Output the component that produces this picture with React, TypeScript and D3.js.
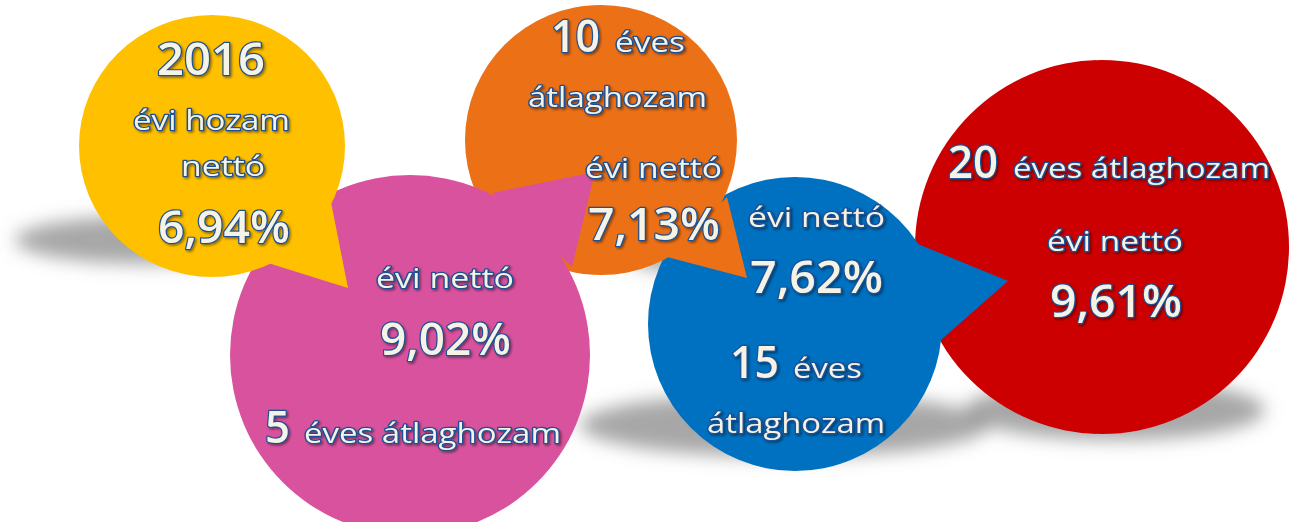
import * as d3 from "d3";

// data: period label, net annual return (%)
const periods = ["2016", "5", "10", "15", "20"];
const netReturns = [6.94, 9.02, 7.13, 7.62, 9.61];
const fills = ["#FFC000", "#D9529E", "#EC7016", "#0070C0", "#CC0000"];

const hu = d3.formatLocale({ decimal: ",", thousands: " ", grouping: [3], currency: ["", " Ft"] });
const pct = (v: number) => hu.format(".2f")(v) + "%";

const W = 1299;
const H = 522;

// bubble geometry (layout only)
const bubbles = [
  { cx: 212, cy: 146, rx: 133, ry: 131, tail: [[265, 262], [348, 288], [330, 197]] },
  { cx: 410, cy: 355, rx: 180, ry: 180, tail: [[492, 193], [595, 172], [572, 267]] },
  { cx: 601, cy: 140, rx: 136, ry: 135, tail: [[667, 257], [747, 278], [727, 197]] },
  { cx: 795, cy: 324, rx: 147, ry: 147, tail: [[918, 244], [1008, 281], [941, 340]] },
  { cx: 1102, cy: 247, rx: 187, ry: 187, tail: [] as number[][] },
];
const drawOrder = [4, 3, 2, 1, 0];

const shadows = [
  { cx: 150, cy: 240, rx: 135, ry: 24 },
  { cx: 690, cy: 258, rx: 60, ry: 14 },
  { cx: 785, cy: 425, rx: 205, ry: 32 },
  { cx: 1115, cy: 410, rx: 150, ry: 30 },
];

type Line = { t: string; x: number; y: number; w: number; big?: boolean };

const lines: Line[] = [
  // 2016
  { t: periods[0], x: 157, y: 75, w: 108, big: true },
  { t: "évi hozam", x: 133, y: 130, w: 157 },
  { t: "nettó", x: 181, y: 176, w: 84 },
  { t: pct(netReturns[0]), x: 158, y: 243, w: 132, big: true },
  // 5 éves
  { t: "évi nettó", x: 376, y: 288, w: 138 },
  { t: pct(netReturns[1]), x: 380, y: 355, w: 131, big: true },
  { t: periods[1], x: 265, y: 443, w: 25, big: true },
  { t: "éves átlaghozam", x: 304, y: 443, w: 257 },
  // 10 éves
  { t: periods[2], x: 551, y: 52, w: 49, big: true },
  { t: "éves", x: 615, y: 52, w: 70 },
  { t: "átlaghozam", x: 528, y: 107, w: 179 },
  { t: "évi nettó", x: 585, y: 178, w: 137 },
  { t: pct(netReturns[2]), x: 588, y: 240, w: 132, big: true },
  // 15 éves
  { t: "évi nettó", x: 748, y: 227, w: 137 },
  { t: pct(netReturns[3]), x: 750, y: 293, w: 133, big: true },
  { t: periods[3], x: 730, y: 378, w: 49, big: true },
  { t: "éves", x: 793, y: 378, w: 69 },
  { t: "átlaghozam", x: 707, y: 433, w: 178 },
  // 20 éves
  { t: periods[4], x: 948, y: 178, w: 50, big: true },
  { t: "éves átlaghozam", x: 1013, y: 178, w: 257 },
  { t: "évi nettó", x: 1047, y: 251, w: 136 },
  { t: pct(netReturns[4]), x: 1050, y: 317, w: 132, big: true },
];

const tailPath = d3.line().curve(d3.curveLinearClosed);

export default function App() {
  return (
    <svg width={W} height={H} style={{ position: "absolute", left: 0, top: 0, background: "#fff" }}>
      <defs>
        <filter id="soft" x="-50%" y="-100%" width="200%" height="300%">
          <feGaussianBlur stdDeviation={9} />
        </filter>
        <filter id="txt" x="-10%" y="-30%" width="120%" height="160%">
          <feDropShadow dx={1.5} dy={1.5} stdDeviation={1} floodColor="#000" floodOpacity={0.45} />
        </filter>
      </defs>
      <g filter="url(#soft)">
        {shadows.map((s, i) => (
          <ellipse key={i} cx={s.cx} cy={s.cy} rx={s.rx} ry={s.ry} fill="#8a8a8a" opacity={0.75} />
        ))}
      </g>
      {drawOrder.map((i) => {
        const b = bubbles[i];
        return (
          <g key={i} fill={fills[i]}>
            <ellipse cx={b.cx} cy={b.cy} rx={b.rx} ry={b.ry} />
            {b.tail.length > 0 && <path d={tailPath(b.tail as [number, number][]) ?? ""} />}
          </g>
        );
      })}
      <g
        fontFamily="'Open Sans', 'Noto Sans', sans-serif"
        fill="#f5f3e6"
        stroke="#1d4f93"
        strokeWidth={2.4}
        strokeLinejoin="round"
        paintOrder="stroke"
        filter="url(#txt)"
      >
        {lines.map((l, i) => (
          <text
            key={i}
            x={l.x}
            y={l.y}
            fontSize={l.big ? 45 : 27}
            fontWeight={l.big ? 600 : 500}
            textLength={l.w}
            lengthAdjust="spacingAndGlyphs"
          >
            {l.t}
          </text>
        ))}
      </g>
    </svg>
  );
}
